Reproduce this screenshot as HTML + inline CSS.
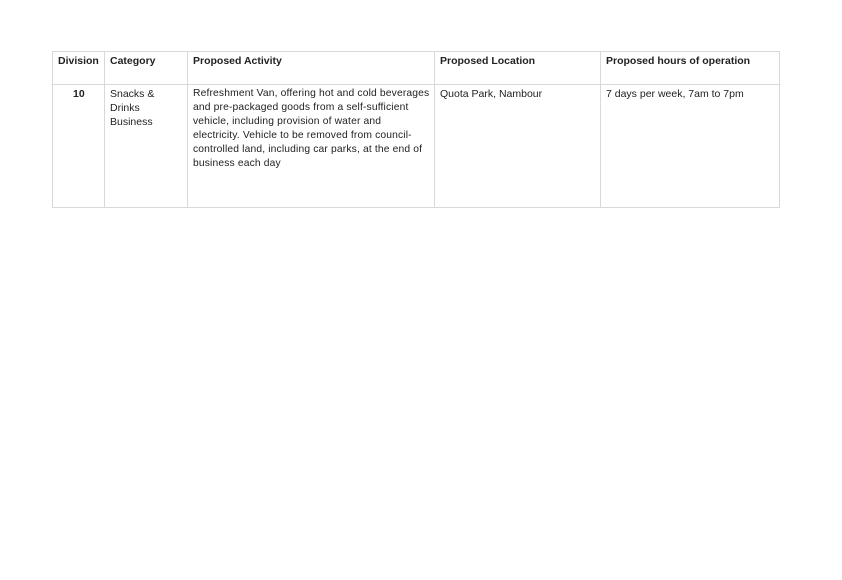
<!DOCTYPE html>
<html><head><style>
body{margin:0;width:842px;height:580px;background:#fff;position:relative;font-family:"Liberation Sans",sans-serif;color:#222;}
.l{position:absolute;background:#d9d9d9}
.t{position:absolute;font-size:10.5px;line-height:14px;white-space:nowrap}
.b{font-weight:bold}
</style></head><body>
<div class="l" style="left:52px;top:51px;width:728px;height:1px"></div>
<div class="l" style="left:52px;top:84px;width:728px;height:1px"></div>
<div class="l" style="left:52px;top:207px;width:728px;height:1px"></div>
<div class="l" style="left:52px;top:51px;width:1px;height:157px"></div>
<div class="l" style="left:104px;top:51px;width:1px;height:157px"></div>
<div class="l" style="left:187px;top:51px;width:1px;height:157px"></div>
<div class="l" style="left:434px;top:51px;width:1px;height:157px"></div>
<div class="l" style="left:600px;top:51px;width:1px;height:157px"></div>
<div class="l" style="left:779px;top:51px;width:1px;height:157px"></div>
<div class="t b" style="left:58px;top:54px">Division</div>
<div class="t b" style="left:110px;top:54px">Category</div>
<div class="t b" style="left:193px;top:54px">Proposed Activity</div>
<div class="t b" style="left:440px;top:54px">Proposed Location</div>
<div class="t b" style="left:606px;top:54px">Proposed hours of operation</div>
<div class="t b" style="left:73px;top:87px">10</div>
<div class="t" style="left:110px;top:87px">Snacks &amp;<br>Drinks<br>Business</div>
<div class="t" style="left:193px;top:87px;font-size:10.3px;letter-spacing:0.15px">Refreshment Van, offering hot and cold beverages<br>and pre-packaged goods from a self-sufficient<br>vehicle, including provision of water and<br>electricity. Vehicle to be removed from council-<br>controlled land, including car parks, at the end of<br>business each day</div>
<div class="t" style="left:440px;top:87px">Quota Park, Nambour</div>
<div class="t" style="left:606px;top:87px">7 days per week, 7am to 7pm</div>
</body></html>
